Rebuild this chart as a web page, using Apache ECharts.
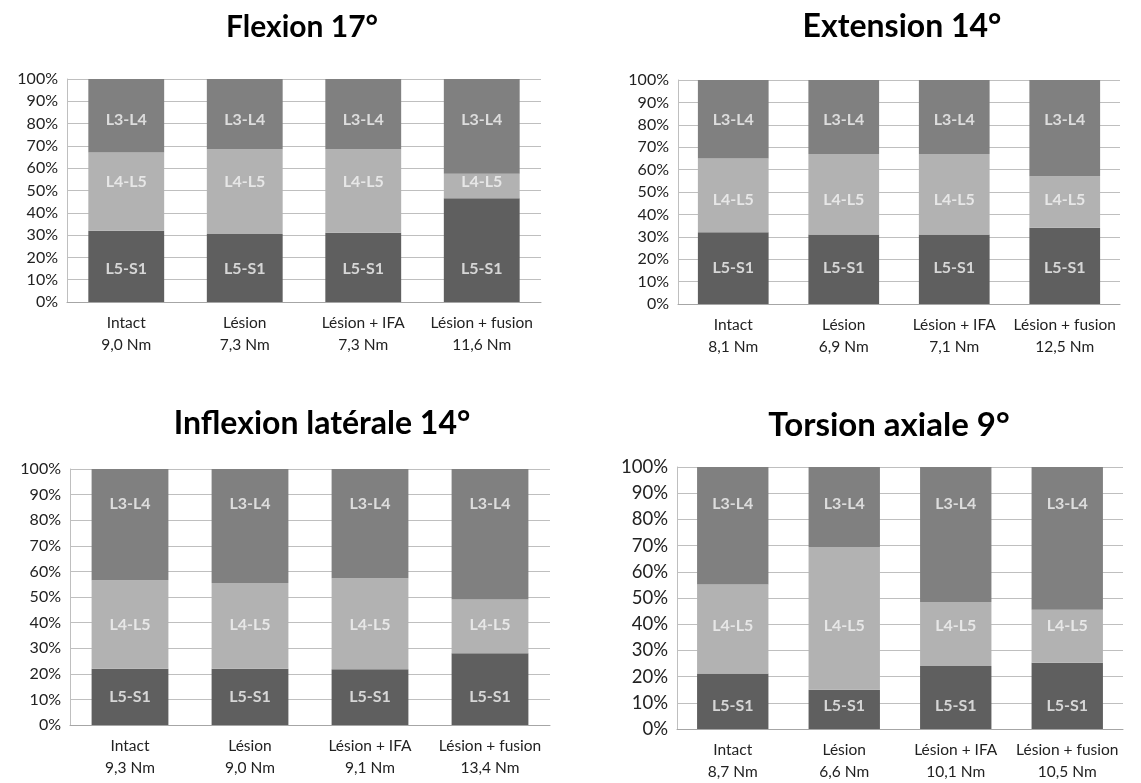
<!DOCTYPE html>
<html>
<head>
<meta charset="utf-8">
<script src="https://cdn.jsdelivr.net/npm/echarts@6/dist/echarts.min.js"></script>
<style>
  html, body { margin: 0; padding: 0; background: #fff; }
  #main { width: 1141px; height: 783px; }
</style>
</head>
<body>
<div id="main"></div>
<script>
// shared categories and segments (bottom -> top)
const categories = ['Intact', 'Lésion', 'Lésion + IFA', 'Lésion + fusion'];
const segments = ['L5-S1', 'L4-L5', 'L3-L4'];

// Flexion 17°
const flexionTorque = ['9,0', '7,3', '7,3', '11,6'];
const flexionL5S1 = [32, 30.5, 31, 46.5];
const flexionL4L5 = [35, 38, 37.5, 11];
const flexionL3L4 = [33, 31.5, 31.5, 42.5];
const flexionLabelAt = [15, 54, 81.5];

// Extension 14°
const extensionTorque = ['8,1', '6,9', '7,1', '12,5'];
const extensionL5S1 = [32, 31, 31, 34];
const extensionL4L5 = [33, 36, 36, 23];
const extensionL3L4 = [35, 33, 33, 43];
const extensionLabelAt = [16, 46.5, 82];

// Inflexion latérale 14°
const inflexionTorque = ['9,3', '9,0', '9,1', '13,4'];
const inflexionL5S1 = [22, 22, 21.8, 28];
const inflexionL4L5 = [34.5, 33.5, 35.5, 21];
const inflexionL3L4 = [43.5, 44.5, 42.7, 51];
const inflexionLabelAt = [11, 39, 86.5];

// Torsion axiale 9°
const torsionTorque = ['8,7', '6,6', '10,1', '10,5'];
const torsionL5S1 = [21.2, 15, 24, 25.3];
const torsionL4L5 = [34, 54.5, 24.5, 20.2];
const torsionL3L4 = [44.8, 30.5, 51.5, 54.5];
const torsionLabelAt = [9, 39.5, 86];

const segColors = ['#5f5f5f', '#b2b2b2', '#808080'];
const FONT = 'Lato, "Open Sans", sans-serif';

const panels = [
  { title: 'Flexion 17°', torque: flexionTorque, values: [flexionL5S1, flexionL4L5, flexionL3L4], labelAt: flexionLabelAt,
    grid: { left: 67, top: 79, width: 474, height: 223 }, titleX: 302, titleY: 27, titleSize: 30, yFont: 16 },
  { title: 'Extension 14°', torque: extensionTorque, values: [extensionL5S1, extensionL4L5, extensionL3L4], labelAt: extensionLabelAt,
    grid: { left: 678, top: 80, width: 442, height: 224 }, titleX: 902, titleY: 27, titleSize: 32, yFont: 16 },
  { title: 'Inflexion latérale 14°', torque: inflexionTorque, values: [inflexionL5S1, inflexionL4L5, inflexionL3L4], labelAt: inflexionLabelAt,
    grid: { left: 70, top: 469, width: 480, height: 256 }, titleX: 322, titleY: 424, titleSize: 32, yFont: 16 },
  { title: 'Torsion axiale 9°', torque: torsionTorque, values: [torsionL5S1, torsionL4L5, torsionL3L4], labelAt: torsionLabelAt,
    grid: { left: 677, top: 467, width: 446, height: 262 }, titleX: 889, titleY: 425, titleSize: 33, yFont: 18.5 }
];

const grid = [], xAxis = [], yAxis = [], series = [], graphic = [];

panels.forEach((p, i) => {
  grid.push(p.grid);
  graphic.push({
    type: 'text', x: p.titleX, y: p.titleY,
    style: {
      text: p.title, font: 'bold ' + p.titleSize + 'px ' + FONT, fill: '#000',
      textAlign: 'center', textVerticalAlign: 'middle', align: 'center', verticalAlign: 'middle'
    }
  });
  xAxis.push({
    type: 'category', gridIndex: i, data: categories,
    axisLine: { lineStyle: { color: '#a6a6a6' } },
    axisTick: { show: false },
    axisLabel: {
      interval: 0, margin: 10, color: '#222', fontSize: 15.5, lineHeight: 22, fontFamily: FONT,
      formatter: (v, idx) => v + '\n' + p.torque[idx] + ' Nm'
    }
  });
  yAxis.push({
    type: 'value', gridIndex: i, min: 0, max: 100, interval: 10,
    axisLine: { show: true, lineStyle: { color: '#bfbfbf' } },
    axisTick: { show: false },
    splitLine: { lineStyle: { color: '#bfbfbf' } },
    axisLabel: { formatter: '{value}%', color: '#222', fontSize: p.yFont, fontFamily: FONT, margin: 9 }
  });
  segments.forEach((s, k) => {
    series.push({
      type: 'bar', name: s, stack: 'p' + i, xAxisIndex: i, yAxisIndex: i,
      barWidth: '64%', data: p.values[k], silent: true,
      itemStyle: { color: segColors[k] }
    });
  });
  // segment names, placed at fixed levels like in the source slide
  segments.forEach((s, k) => {
    series.push({
      type: 'scatter', xAxisIndex: i, yAxisIndex: i, silent: true, z: 5,
      symbolSize: 1, itemStyle: { color: 'rgba(0,0,0,0)' },
      data: categories.map(c => [c, p.labelAt[k]]),
      label: {
        show: true, position: 'inside', formatter: s,
        color: '#f4f4f4', fontWeight: 'bold', fontSize: 16, fontFamily: FONT
      }
    });
  });
});

const chart = echarts.init(document.getElementById('main'));
chart.setOption({
  backgroundColor: '#fff',
  animation: false,
  grid, xAxis, yAxis, series, graphic
});
</script>
</body>
</html>
